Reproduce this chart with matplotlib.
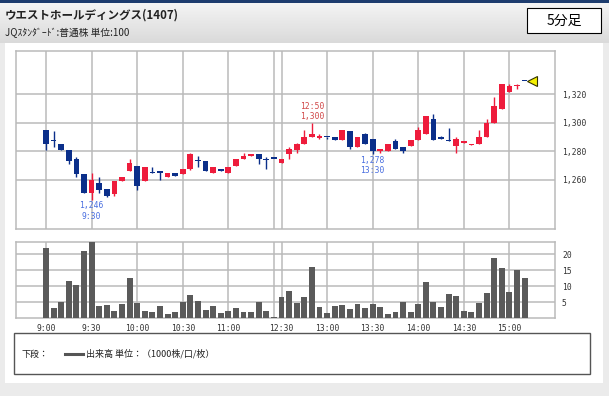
import matplotlib
matplotlib.use("Agg")
import matplotlib.pyplot as plt
from matplotlib.patches import Rectangle
import numpy as np

plt.rcParams['font.family'] = ['Noto Sans CJK JP', 'DejaVu Sans']

# 5-minute bars, morning 9:00-11:30, afternoon 12:30-15:10
times = ([f"{9 + (5 * k) // 60}:{(5 * k) % 60:02d}" for k in range(31)] +
         [f"{12 + (30 + 5 * k) // 60}:{(30 + 5 * k) % 60:02d}" for k in range(33)])

opens = [1295, 1288, 1285, 1281, 1275, 1264, 1251, 1258, 1254, 1250,
         1259, 1266, 1270, 1259, 1265.5, 1266, 1262, 1265, 1264, 1268,
         1274, 1273, 1265, 1268, 1265, 1270, 1275, 1277, 1278, 1274.5,
         1275,
         1272, 1278, 1281, 1285, 1290, 1289.5, 1290, 1290, 1288, 1294,
         1283, 1292, 1289, 1280, 1280, 1287, 1283, 1283.5, 1288, 1292,
         1303, 1289, 1288, 1284, 1286, 1284.5, 1285, 1290, 1300, 1310,
         1321.5, 1325.5, 1329]
highs = [1295, 1294, 1285, 1281, 1276, 1264, 1265, 1262, 1254, 1259,
         1262, 1275, 1270, 1269, 1269, 1266, 1265, 1265, 1268, 1279,
         1277, 1273, 1269, 1268, 1269, 1275, 1279, 1278, 1278, 1276,
         1275,
         1275, 1283, 1286, 1295, 1300, 1292, 1290, 1290, 1295, 1294,
         1290, 1293, 1289, 1282, 1285, 1289, 1283, 1288, 1297, 1305,
         1306, 1291, 1296.5, 1290, 1287, 1285, 1295, 1303, 1318, 1327.5,
         1327, 1327, 1329]
lows = [1281, 1283, 1281, 1271, 1262, 1251, 1246, 1251, 1248, 1249,
        1259, 1266, 1253, 1259, 1265, 1260, 1262, 1263, 1264, 1267,
        1269, 1266, 1265, 1266, 1265, 1270, 1275, 1277, 1271, 1268,
        1275,
        1272, 1275, 1279, 1285, 1290, 1289, 1289, 1288, 1288, 1282,
        1283, 1285, 1278, 1279, 1280, 1282, 1279, 1283.5, 1288, 1292,
        1288, 1289, 1287, 1279, 1286, 1284.5, 1285, 1290, 1300, 1310,
        1321.5, 1324, 1329]
closes = [1285, 1287, 1281, 1273, 1264, 1251, 1260, 1253, 1249, 1259,
          1262, 1272, 1256, 1269, 1265, 1265, 1265, 1263, 1268, 1278,
          1273, 1266, 1269, 1266, 1269, 1275, 1277, 1278, 1275, 1274,
          1275,
          1275, 1282, 1285, 1290, 1292, 1291, 1290, 1288, 1295, 1283,
          1290, 1285, 1280, 1282, 1285, 1282, 1280, 1288, 1295, 1304.5,
          1288, 1289, 1287, 1289, 1287, 1285, 1290, 1300, 1312, 1327,
          1326, 1326, 1329]
volumes = [21.9, 3.1, 5.0, 11.5, 10.4, 21.0, 24.0, 3.6, 4.0, 2.3,
           4.4, 12.6, 4.6, 2.3, 1.8, 3.6, 1.3, 1.8, 5.1, 7.3,
           5.4, 2.5, 3.9, 1.5, 2.1, 3.2, 2.0, 1.8, 5.0, 2.3,
           0.4,
           6.6, 8.3, 4.7, 6.6, 16.0, 3.3, 1.5, 3.8, 4.0, 2.8,
           4.3, 3.0, 4.3, 3.5, 1.4, 1.8, 4.9, 2.0, 4.4, 11.3,
           5.0, 3.5, 7.4, 6.9, 2.2, 1.8, 4.6, 7.7, 18.8, 15.6,
           8.0, 15.0, 12.5]

grid_times = ["9:00", "9:30", "10:00", "10:30", "11:00", "11:30",
              "12:30", "13:00", "13:30", "14:00", "14:30", "15:00"]
label_times = ["9:00", "9:30", "10:00", "10:30", "11:00",
               "12:30", "13:00", "13:30", "14:00", "14:30", "15:00"]
price_ticks = [1260, 1280, 1300, 1320]
volume_ticks = [5, 10, 15, 20]
# marked bars: (time, kind)
notes = [("9:30", "low"), ("12:50", "high"), ("13:30", "low")]

RED = '#ee1c3c'
BLUE = '#0b2f8a'
GRID = '#bababa'
MONO = 'DejaVu Sans Mono'

W, H = 609, 396
fig = plt.figure(figsize=(W / 100, H / 100), dpi=100)
fig.patch.set_facecolor('#ebebeb')

bg = fig.add_axes([0, 0, 1, 1])
bg.set_xlim(0, W)
bg.set_ylim(H, 0)
bg.axis('off')

# header
grad = np.linspace(0, 1, 50).reshape(-1, 1)
bg.imshow(grad, cmap=matplotlib.colors.LinearSegmentedColormap.from_list('g', ['#f4f4f4', '#dadada']),
          extent=[0, W, 43, 3], aspect='auto')
bg.add_patch(Rectangle((0, 0), W, 3, fc='#1d3c6e', ec='none'))
bg.add_patch(Rectangle((5, 43), 598, 340, fc='white', ec='none'))
bg.text(5, 15, "ウエストホールディングス(1407)", fontsize=8.3, fontweight='bold', va='center', color='#222222')
bg.text(5, 33, "JQｽﾀﾝﾀﾞｰﾄﾞ:普通株 単位:100", fontsize=7, va='center', color='#222222')
bg.add_patch(Rectangle((527, 8), 74, 25, fc='white', ec='black', lw=0.8))
bg.text(564, 20.5, "5分足", fontsize=10, ha='center', va='center')

# legend box
bg.add_patch(Rectangle((14, 333), 576, 41, fc='white', ec='#555555', lw=1))
bg.text(22, 354, "下段：", fontsize=6.5, va='center', color='#222222')
bg.plot([65, 83], [354, 354], color='#555555', lw=2.2)
bg.text(86, 354, "出来高 単位：（1000株/口/枚）", fontsize=6.5, va='center', color='#222222')
bg.set_xlim(0, W)
bg.set_ylim(H, 0)


def px_axes(x0, y0, x1, y1):
    return fig.add_axes([x0 / W, 1 - y1 / H, (x1 - x0) / W, (y1 - y0) / H])


x = np.arange(len(times))
o = np.array(opens, dtype=float)
hi = np.array(highs, dtype=float)
lo = np.array(lows, dtype=float)
c = np.array(closes, dtype=float)
colors = [RED if cc > oo else BLUE for oo, cc in zip(o, c)]
grid_pos = [times.index(t) for t in grid_times]
label_pos = [times.index(t) for t in label_times]

# price panel
ax = px_axes(16, 51, 555, 229)
ax.set_xlim(-3.95, 67)
ax.set_ylim(1225.7, 1350.3)
ax.set_xticks(grid_pos)
ax.set_xticklabels([])
ax.set_yticks(price_ticks)
ax.set_yticklabels([f"{p:,}" for p in price_ticks], fontsize=5.8, family=MONO, color='#333333')
ax.yaxis.tick_right()
ax.tick_params(length=0, pad=5)
ax.grid(color=GRID, lw=1.1)
ax.set_axisbelow(True)
for s in ax.spines.values():
    s.set_color(GRID)
    s.set_linewidth(1.1)

ax.vlines(x, lo, hi, colors=colors, lw=1.0, zorder=3)
body = np.maximum(np.abs(c - o), 0.9)
ax.bar(x, body, bottom=np.minimum(o, c), width=0.75, color=colors, zorder=4)
ax.plot(x[-1] + 1, c[-1], marker='<', ms=7, mfc='#f5f000', mec='#333300', mew=0.8, zorder=5)

for t, kind in notes:
    i = times.index(t)
    if kind == "low":
        ax.text(i, lo[i] - 1.0, f"{int(lo[i]):,}\n{t}", ha='center', va='top',
                fontsize=5.8, family=MONO, color='#4a6fe0', zorder=6)
    else:
        ax.text(i, hi[i] + 1.0, f"{t}\n{int(hi[i]):,}", ha='center', va='bottom',
                fontsize=5.8, family=MONO, color='#d04848', zorder=6)

# volume panel
ax2 = px_axes(16, 242, 555, 318)
ax2.set_xlim(-3.95, 67)
ax2.set_ylim(0, 23.75)
ax2.set_xticks(grid_pos)
ax2.set_xticklabels([t if t in label_times else "" for t in grid_times],
                    fontsize=5.8, family=MONO, color='#333333')
ax2.set_yticks(volume_ticks)
ax2.set_yticklabels([str(v) for v in volume_ticks], fontsize=5.8, family=MONO, color='#333333')
ax2.yaxis.tick_right()
ax2.tick_params(length=0, pad=5)
ax2.tick_params(axis='x', pad=4)
ax2.grid(color=GRID, lw=1.1)
ax2.set_axisbelow(True)
for s in ax2.spines.values():
    s.set_color(GRID)
    s.set_linewidth(1.1)
ax2.bar(x, volumes, width=0.78, color='#5a5a5a', zorder=3)

fig.savefig("out.png", dpi=100)
